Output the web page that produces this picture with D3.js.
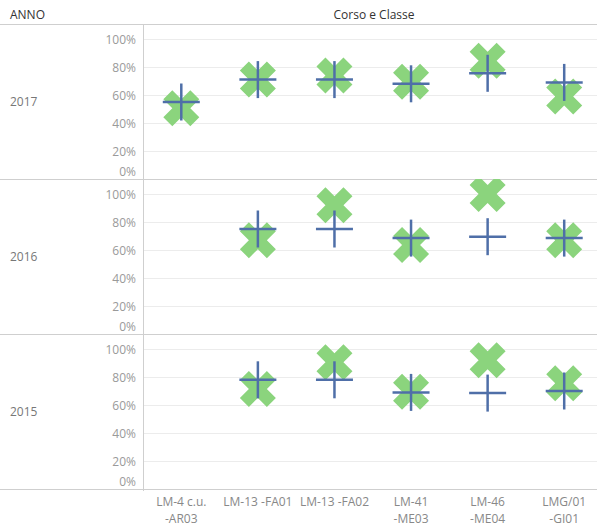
<!DOCTYPE html>
<html><head><meta charset="utf-8">
<script src="https://cdn.jsdelivr.net/npm/d3@7"></script>
<style>body{margin:0;background:#fff}svg{display:block}text{font-family:"Open Sans","Noto Sans",sans-serif}</style>
</head><body><svg id="c" width="597" height="527"></svg>
<script>
const categories = ["LM-4 c.u. -AR03","LM-13 -FA01","LM-13 -FA02","LM-41 -ME03","LM-46 -ME04","LMG/01 -GI01"];
const categoryLines = [["LM-4 c.u.","-AR03"],["LM-13 -FA01"],["LM-13 -FA02"],["LM-41","-ME03"],["LM-46","-ME04"],["LMG/01","-GI01"]];
const years = ["2017","2016","2015"];
// plus marker (blue) values per year, per category (null = none)
const plusValues = [
  [0.55, 0.71, 0.71, 0.68, 0.755, 0.69],
  [null, 0.75, 0.75, 0.685, 0.695, 0.685],
  [null, 0.78, 0.78, 0.69, 0.685, 0.70]
];
// X marker (green) values
const xValues = [
  [0.505, 0.71, 0.74, 0.695, 0.845, 0.59],
  [null, 0.67, 0.92, 0.635, 1.0, 0.67],
  [null, 0.715, 0.905, 0.695, 0.92, 0.755]
];
const yTicks = [0, 0.2, 0.4, 0.6, 0.8, 1.0];
const headerRow = "ANNO";
const headerCol = "Corso e Classe";

const svg = d3.select("#c");
const W = 597, top0 = 24, panelH = 155, leftX = 143;
const x = d3.scaleBand().domain(categories).range([leftX, 602.5]);
const y = d3.scaleLinear().domain([0, 155/140]).range([panelH, 0]);
const grid = "#ececec", border = "#cfcfcf";

svg.append("defs").selectAll("clipPath").data(years).join("clipPath")
  .attr("id", (d,i)=>"cp"+i).append("rect")
  .attr("x", leftX).attr("y", 0).attr("width", W-leftX).attr("height", panelH);

// header
svg.append("text").attr("x", 10).attr("y", 19).attr("font-size", 12).attr("fill", "#333").attr("font-weight", 500).text(headerRow);
svg.append("text").attr("x", 374).attr("y", 19).attr("text-anchor","middle").attr("font-size", 12).attr("fill", "#333").text(headerCol);
svg.append("line").attr("x1",0).attr("x2",W).attr("y1",top0+0.5).attr("y2",top0+0.5).attr("stroke",border);

years.forEach((yr, i) => {
  const g = svg.append("g").attr("transform", `translate(0,${top0 + i*panelH})`);
  g.selectAll("line.grid").data(yTicks.filter(t=>t>0)).join("line")
    .attr("x1", leftX).attr("x2", W).attr("y1", d=>Math.round(y(d))+0.5).attr("y2", d=>Math.round(y(d))+0.5)
    .attr("stroke", grid);
  g.selectAll("text.tk").data(yTicks).join("text")
    .attr("x", 136).attr("y", d => d===0 ? y(d)-3 : y(d)+4.5)
    .attr("text-anchor","end").attr("font-size", 12).attr("fill","#9a9a9a")
    .text(d => d3.format(".0%")(d));
  g.append("text").attr("x", 10).attr("y", panelH/2 + 4.5).attr("font-size", 12).attr("fill","#777").text(yr);
  g.append("line").attr("x1",0).attr("x2",W).attr("y1",panelH+0.5).attr("y2",panelH+0.5).attr("stroke",border);

  const m = g.append("g").attr("clip-path", `url(#cp${i})`);
  const xs = xValues[i].map((v,j)=>({v, c:categories[j]})).filter(d=>d.v!=null);
  m.selectAll("path.x").data(xs).join("path")
    .attr("d", d3.symbol(d3.symbolCross, 810)())
    .attr("transform", d => `translate(${x(d.c)+x.bandwidth()/2},${y(d.v)}) rotate(45)`)
    .attr("fill", "#8bd47d");
  const ps = plusValues[i].map((v,j)=>({v, c:categories[j]})).filter(d=>d.v!=null);
  const pg = m.selectAll("g.p").data(ps).join("g")
    .attr("transform", d => `translate(${x(d.c)+x.bandwidth()/2},${y(d.v)})`);
  pg.append("line").attr("x1",-18.5).attr("x2",18.5).attr("stroke","#4f6fa8").attr("stroke-width",2.5);
  pg.append("line").attr("y1",-18.5).attr("y2",18.5).attr("stroke","#4f6fa8").attr("stroke-width",2.5);
});

svg.append("line").attr("x1",leftX+0.5).attr("x2",leftX+0.5).attr("y1",top0).attr("y2",top0+3*panelH+2).attr("stroke",border);

const bl = svg.append("g");
categories.forEach((c,j) => {
  const t = bl.append("text").attr("x", x(c)+x.bandwidth()/2).attr("y", 506)
    .attr("text-anchor","middle").attr("font-size", 12).attr("fill","#888");
  categoryLines[j].forEach((ln,k) => t.append("tspan").attr("x", x(c)+x.bandwidth()/2).attr("dy", k?17:0).text(ln));
});
</script></body></html>
